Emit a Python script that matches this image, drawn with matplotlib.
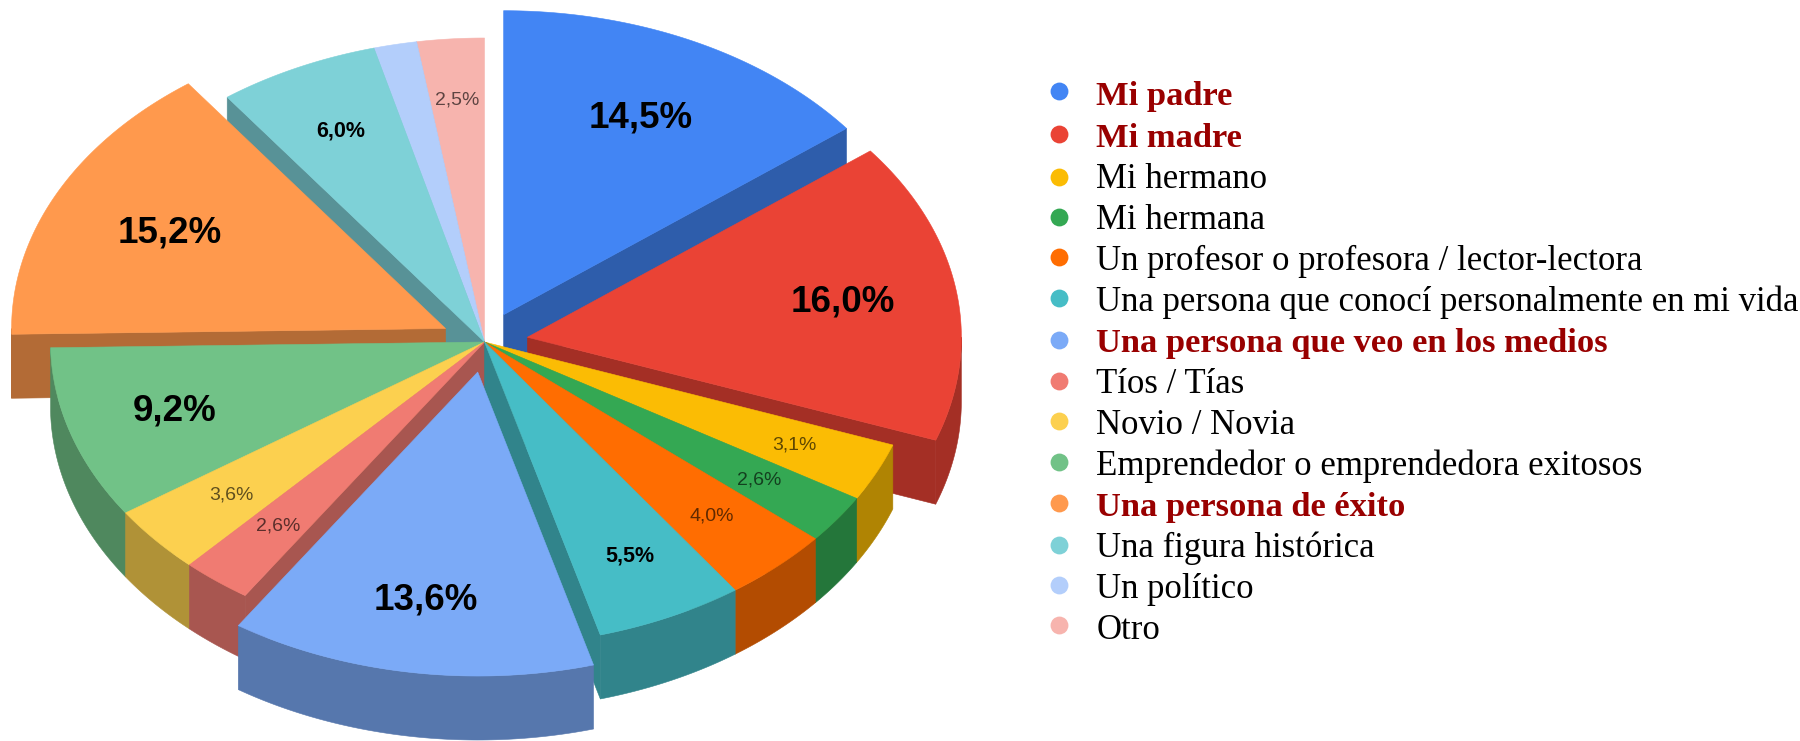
import matplotlib
matplotlib.use('Agg')
import numpy as np
import matplotlib.pyplot as plt
from matplotlib.colors import to_rgb

# chart data, clockwise from the top
categories = ["Mi padre", "Mi madre", "Mi hermano", "Mi hermana",
              "Un profesor o profesora / lector-lectora",
              "Una persona que conocí personalmente en mi vida",
              "Una persona que veo en los medios", "Tíos / Tías",
              "Novio / Novia", "Emprendedor o emprendedora exitosos",
              "Una persona de éxito", "Una figura histórica",
              "Un político", "Otro"]
values = [14.5, 16.0, 3.1, 2.6, 4.0, 5.5, 13.6, 2.6, 3.6, 9.2, 15.2, 6.0, 1.6, 2.5]
colors = ["#4285f4", "#ea4335", "#fbbc04", "#34a853", "#ff6d01", "#46bdc6", "#7baaf7",
          "#f07b72", "#fcd04f", "#71c287", "#ff994d", "#7ed1d7", "#b3cefb", "#f7b4ae"]
exploded = ["Mi padre", "Mi madre", "Una persona que veo en los medios", "Una persona de éxito"]

# geometry of the tilted pie, in figure pixels
cx, cy = 484.5, 342
rx, ry = 434, 304
depth = 64
offset = 0.1
marker_y = [91, 134, 177, 217, 257, 298, 340, 381, 421, 462, 503, 545, 585, 625]
# how far out along its slice each percent label sits
label_r = [0.72, 0.735, 0.79, 0.78, 0.775, 0.78, 0.76, 0.77, 0.77, 0.75, 0.71, 0.77, 0.8, 0.8]


def project(theta, r=1.0):
    return r * rx * np.sin(theta), -r * ry * np.cos(theta)


fig = plt.figure(figsize=(18, 7.41), dpi=100)
ax = fig.add_axes([0, 0, 1, 1])
ax.set_xlim(0, 1800)
ax.set_ylim(741, 0)
ax.axis('off')

vals = np.array(values)
edges = np.radians(np.concatenate([[0], np.cumsum(vals)]) / vals.sum() * 360)
mids = (edges[:-1] + edges[1:]) / 2


def paint(xs, ys, col):
    ax.fill(xs, ys, color=col, lw=0.4, zorder=2)


# back slices first, the front ones cover them
for i in np.argsort(-np.cos(mids)):
    a, b = edges[i], edges[i + 1]
    dark = tuple(c * 0.7 for c in to_rgb(colors[i]))
    ox, oy = (0, 0)
    if categories[i] in exploded:
        ox, oy = project(mids[i], offset)
    x0, y0 = cx + ox, cy + oy

    # radial walls
    if np.sin(b) > 0.001:
        ex, ey = project(b)
        paint([x0, x0 + ex, x0 + ex, x0], [y0, y0 + ey, y0 + ey + depth, y0 + depth], dark)
    if np.sin(a) < -0.001:
        ex, ey = project(a)
        paint([x0, x0 + ex, x0 + ex, x0], [y0, y0 + ey, y0 + ey + depth, y0 + depth], dark)

    # outer wall, only the part turned to the viewer
    lo, hi = max(a, np.pi / 2), min(b, 3 * np.pi / 2)
    if hi > lo:
        t = np.linspace(lo, hi, 80)
        px, py = project(t)
        paint(np.r_[x0 + px, x0 + px[::-1]], np.r_[y0 + py, y0 + py[::-1] + depth], dark)

    # top face
    t = np.linspace(a, b, 120)
    px, py = project(t)
    paint(np.r_[x0, x0 + px], np.r_[y0, y0 + py], colors[i])

# percent labels
for i, v in enumerate(values):
    if v < 2:
        continue
    ox, oy = (0, 0)
    if categories[i] in exploded:
        ox, oy = project(mids[i], offset)
    if v >= 9:
        size, weight, alpha = 26.5, 'bold', 1.0
    elif v >= 5:
        size, weight, alpha = 15.5, 'bold', 1.0
    else:
        size, weight, alpha = 14, 'normal', 0.62
    px, py = project(mids[i], label_r[i])
    ax.text(cx + ox + px, cy + oy + py, f"{v:.1f}".replace(".", ",") + "%",
            ha='center', va='center', fontsize=size, fontweight=weight,
            family='Liberation Sans', color='black', alpha=alpha, zorder=3)

# legend
highlight = exploded
for i, name in enumerate(categories):
    ax.scatter([1059], [marker_y[i]], s=165, color=colors[i], lw=0, zorder=3)
    hot = name in highlight
    ax.text(1096.5, 105.5 + i * 41.07, name, ha='left', va='baseline',
            fontsize=24.8 if hot else 25.0, family='Liberation Serif',
            fontweight='bold' if hot else 'normal',
            color='#990000' if hot else 'black', zorder=3)

fig.savefig('out.png', dpi=100, facecolor='white')
